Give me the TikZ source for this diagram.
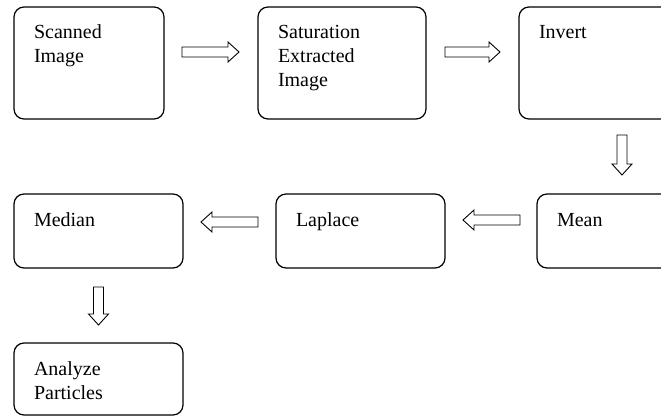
\documentclass[tikz,border=0pt]{standalone}
\usepackage{fontspec}
\setmainfont{Liberation Serif}
\usetikzlibrary{calc}

\tikzset{
  stage/.style={draw, line width=1.2pt, rounded corners=10pt, anchor=north west,
    align=left, inner xsep=20pt, inner ysep=0pt, outer sep=0pt,
    text height=32pt, font=\fontsize{20}{24}\selectfont},
  hollow/.style={draw, line width=0.9pt, line join=miter,
    to path={($(\tikztostart)!5pt!90:(\tikztotarget)$)
      -- ($($(\tikztotarget)!11pt!(\tikztostart)$)!5pt!-90:(\tikztostart)$)
      -- ($($(\tikztotarget)!11pt!(\tikztostart)$)!10pt!-90:(\tikztostart)$)
      -- (\tikztotarget)
      -- ($($(\tikztotarget)!11pt!(\tikztostart)$)!10pt!90:(\tikztostart)$)
      -- ($($(\tikztotarget)!11pt!(\tikztostart)$)!5pt!90:(\tikztostart)$)
      -- ($(\tikztostart)!5pt!-90:(\tikztotarget)$) -- cycle}}
}

\begin{document}
\begin{tikzpicture}[x=1pt,y=1pt]
\useasboundingbox (0,0) rectangle (661,-417);
\clip (0,0) rectangle (661,-417);

\node[stage, text width=110pt, text depth=80pt] (scan) at (14,-7) {Scanned\\Image};
\node[stage, text width=128pt, text depth=80pt] (sat) at (258,-7) {Saturation\\Extracted\\Image};
\node[stage, text width=128pt, text depth=80pt] (inv) at (519,-7) {Invert};
\node[stage, text width=128pt, text depth=42pt] (mean) at (537,-194) {Mean};
\node[stage, text width=129pt, text depth=42pt] (lap) at (276,-194) {Laplace};
\node[stage, text width=129pt, text depth=42pt] (med) at (14,-194) {Median};
\node[stage, text width=129pt, text depth=40pt] (ana) at (14,-343) {Analyze\\Particles};

\draw[hollow] ([xshift=18pt,yshift=11pt]scan.east) to ([xshift=-19pt,yshift=11pt]sat.west);
\draw[hollow] ([xshift=19pt,yshift=11pt]sat.east) to ([xshift=-19pt,yshift=11pt]inv.west);
\draw[hollow] ([xshift=19pt,yshift=-16pt]inv.south) to ([xshift=1pt,yshift=19pt]mean.north);
\draw[hollow] ([xshift=-17pt,yshift=11pt]mean.west) to ([xshift=18pt,yshift=11pt]lap.east);
\draw[hollow] ([xshift=-18pt,yshift=9pt]lap.west) to ([xshift=18pt,yshift=9pt]med.east);
\draw[hollow] ([yshift=-19pt]med.south) to ([yshift=18pt]ana.north);
\end{tikzpicture}
\end{document}
